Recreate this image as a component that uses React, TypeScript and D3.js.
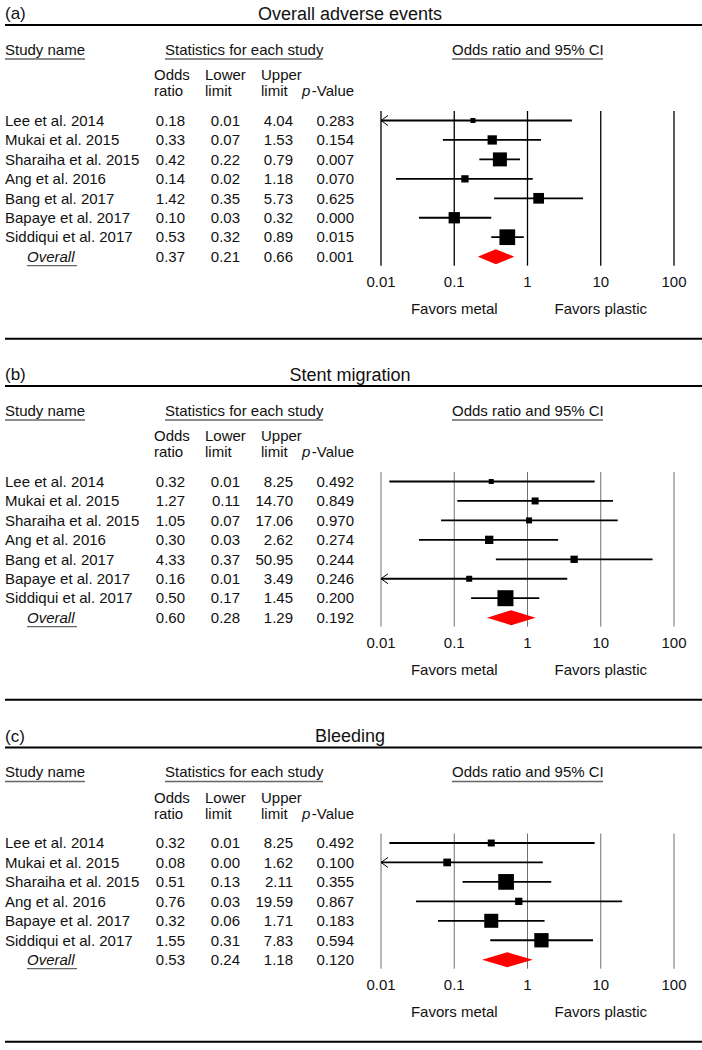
import React from 'react';
import * as d3 from 'd3';

// ---------- DATA ----------
const studiesA = ['Lee et al. 2014', 'Mukai et al. 2015', 'Sharaiha et al. 2015', 'Ang et al. 2016', 'Bang et al. 2017', 'Bapaye et al. 2017', 'Siddiqui et al. 2017'];
const orA = [0.18, 0.33, 0.42, 0.14, 1.42, 0.10, 0.53];
const lowerA = [0.008, 0.07, 0.22, 0.016, 0.35, 0.033, 0.32];
const upperA = [4.04, 1.53, 0.79, 1.18, 5.73, 0.32, 0.89];
const pA = [0.283, 0.154, 0.007, 0.070, 0.625, 0.000, 0.015];
const weightA = [2.8, 9.6, 21.8, 5.9, 12.7, 14.2, 27.4];
const overallA = [0.37, 0.21, 0.66, 0.001];

const studiesB = ['Lee et al. 2014', 'Mukai et al. 2015', 'Sharaiha et al. 2015', 'Ang et al. 2016', 'Bang et al. 2017', 'Bapaye et al. 2017', 'Siddiqui et al. 2017'];
const orB = [0.32, 1.27, 1.05, 0.30, 4.33, 0.16, 0.50];
const lowerB = [0.013, 0.11, 0.066, 0.033, 0.37, 0.007, 0.17];
const upperB = [8.25, 14.70, 17.06, 2.62, 50.95, 3.49, 1.45];
const pB = [0.492, 0.849, 0.970, 0.274, 0.244, 0.246, 0.200];
const weightB = [2.8, 5.4, 4.0, 7.7, 5.9, 4.0, 28.4];
const overallB = [0.60, 0.28, 1.29, 0.192];

const studiesC = ['Lee et al. 2014', 'Mukai et al. 2015', 'Sharaiha et al. 2015', 'Ang et al. 2016', 'Bapaye et al. 2017', 'Siddiqui et al. 2017'];
const orC = [0.32, 0.08, 0.51, 0.76, 0.32, 1.55];
const lowerC = [0.013, 0.004, 0.13, 0.03, 0.06, 0.31];
const upperC = [8.25, 1.62, 2.11, 19.59, 1.71, 7.83];
const pC = [0.492, 0.100, 0.355, 0.867, 0.183, 0.594];
const weightC = [5.4, 6.6, 27.4, 5.9, 21.8, 22.7];
const overallC = [0.53, 0.24, 1.18, 0.120];

const tickValues = [0.01, 0.1, 1, 10, 100];
const tickLabels = ['0.01', '0.1', '1', '10', '100'];
const favorLabels = ['Favors metal', 'Favors plastic'];
const favorAt = [0.1, 10];

// ---------- LAYOUT ----------
const W = 702;
const H = 1050;
const FONT = "'Liberation Sans', Arial, Helvetica, sans-serif";
const FS = 15;

const x = d3.scaleLog().domain([0.01, 100]).range([381, 674]);
const side = d3.scaleSqrt().domain([0, 100]).range([0, 30]);

type PanelProps = {
  label: string;
  title: string;
  studies: string[];
  or: number[];
  lower: number[];
  upper: number[];
  p: number[];
  weight: number[];
  overall: number[];
  top: number;
  strongGrid: boolean;
};

function Panel(props: PanelProps) {
  const { label, title, studies, or, lower, upper, p, weight, overall, top, strongGrid } = props;
  const rowY = (i: number) => top + 120.5 + 19.45 * i;
  const n = studies.length;
  const yO = rowY(n);
  const gridTop = top + 111;
  const gridBot = yO + 9;
  const tickY = yO + 25.5;
  const favY = yO + 52.5;
  const closeY = yO + 82;
  const x0 = x(0.01);
  const numX = [185, 240, 293, 354];
  const hdrX = [154, 205, 261, 302];

  const fmt2 = (v: number) => v.toFixed(2);
  const fmt3 = (v: number) => v.toFixed(3);

  return (
    <g>
      <text x={5} y={top + 13.5} dy="0.35em" fontSize={17}>{label}</text>
      <text x={350} y={top + 13.5} dy="0.35em" fontSize={18} textAnchor="middle">{title}</text>
      <line x1={5} x2={W} y1={top + 25} y2={top + 25} stroke="#000" strokeWidth={2} />

      {/* section headers */}
      <text x={5} y={top + 49.5} dy="0.35em">Study name</text>
      <text x={165} y={top + 49.5} dy="0.35em">Statistics for each study</text>
      <text x={452} y={top + 49.5} dy="0.35em">Odds ratio and 95% CI</text>
      <line x1={5} x2={85} y1={top + 59} y2={top + 59} stroke="#666" strokeWidth={1.6} />
      <line x1={165} x2={323} y1={top + 59} y2={top + 59} stroke="#666" strokeWidth={1.6} />
      <line x1={452} x2={603} y1={top + 59} y2={top + 59} stroke="#666" strokeWidth={1.6} />

      {/* column headers */}
      <text x={hdrX[0]} y={top + 75} dy="0.35em">Odds</text>
      <text x={hdrX[0]} y={top + 91} dy="0.35em">ratio</text>
      <text x={hdrX[1]} y={top + 75} dy="0.35em">Lower</text>
      <text x={hdrX[1]} y={top + 91} dy="0.35em">limit</text>
      <text x={hdrX[2]} y={top + 75} dy="0.35em">Upper</text>
      <text x={hdrX[2]} y={top + 91} dy="0.35em">limit</text>
      <text x={hdrX[3]} y={top + 91} dy="0.35em"><tspan fontStyle="italic">p</tspan><tspan dx={1.5}>-Value</tspan></text>

      {/* grid lines */}
      {tickValues.map((t, i) => (
        <line key={'g' + i} x1={x(t)} x2={x(t)} y1={gridTop} y2={gridBot}
          stroke={strongGrid ? '#000' : '#707070'} strokeWidth={strongGrid ? 1.3 : 1} />
      ))}

      {/* rows */}
      {studies.map((s, i) => {
        const y = rowY(i);
        const lo = Math.max(lower[i], 0.01);
        const hi = Math.min(upper[i], 100);
        const sz = side(weight[i]);
        return (
          <g key={'r' + i}>
            <text x={5} y={y} dy="0.35em">{s}</text>
            <text x={numX[0]} y={y} dy="0.35em" textAnchor="end">{fmt2(or[i])}</text>
            <text x={numX[1]} y={y} dy="0.35em" textAnchor="end">{fmt2(lower[i])}</text>
            <text x={numX[2]} y={y} dy="0.35em" textAnchor="end">{fmt2(upper[i])}</text>
            <text x={numX[3]} y={y} dy="0.35em" textAnchor="end">{fmt3(p[i])}</text>
            <line x1={x(lo)} x2={x(hi)} y1={y} y2={y} stroke="#000" strokeWidth={1.8} />
            {lower[i] < 0.01 && (
              <path d={`M${x0 + 7},${y - 5} L${x0},${y} L${x0 + 7},${y + 5}`} fill="none" stroke="#000" strokeWidth={1} />
            )}
            <rect x={x(or[i]) - sz / 2} y={y - sz / 2} width={sz} height={sz} fill="#000" />
          </g>
        );
      })}

      {/* overall */}
      <text x={27} y={yO} dy="0.35em" fontStyle="italic">Overall</text>
      <line x1={27} x2={77} y1={yO + 9} y2={yO + 9} stroke="#666" strokeWidth={1.2} />
      <text x={numX[0]} y={yO} dy="0.35em" textAnchor="end">{fmt2(overall[0])}</text>
      <text x={numX[1]} y={yO} dy="0.35em" textAnchor="end">{fmt2(overall[1])}</text>
      <text x={numX[2]} y={yO} dy="0.35em" textAnchor="end">{fmt2(overall[2])}</text>
      <text x={numX[3]} y={yO} dy="0.35em" textAnchor="end">{fmt3(overall[3])}</text>
      <path
        d={`M${x(overall[1])},${yO} L${x(overall[0])},${yO - 7.5} L${x(overall[2])},${yO} L${x(overall[0])},${yO + 7.5} Z`}
        fill="#ff0000" />

      {/* axis labels */}
      {tickValues.map((t, i) => (
        <text key={'t' + i} x={x(t)} y={tickY} dy="0.35em" textAnchor="middle">{tickLabels[i]}</text>
      ))}
      {favorLabels.map((f, i) => (
        <text key={'f' + i} x={x(favorAt[i])} y={favY} dy="0.35em" textAnchor="middle">{f}</text>
      ))}

      <line x1={5} x2={W} y1={closeY} y2={closeY} stroke="#000" strokeWidth={2} />
    </g>
  );
}

export default function App() {
  return (
    <svg width={W} height={H} viewBox={`0 0 ${W} ${H}`}
      style={{ position: 'absolute', left: 0, top: 0, background: '#fff' }}
      fontFamily={FONT} fontSize={FS} fill="#111">
      <rect x={0} y={0} width={W} height={H} fill="#fff" />
      <Panel label="(a)" title="Overall adverse events" studies={studiesA} or={orA} lower={lowerA}
        upper={upperA} p={pA} weight={weightA} overall={overallA} top={0} strongGrid={true} />
      <Panel label="(b)" title="Stent migration" studies={studiesB} or={orB} lower={lowerB}
        upper={upperB} p={pB} weight={weightB} overall={overallB} top={361} strongGrid={false} />
      <Panel label="(c)" title="Bleeding" studies={studiesC} or={orC} lower={lowerC}
        upper={upperC} p={pC} weight={weightC} overall={overallC} top={722.5} strongGrid={false} />
    </svg>
  );
}
